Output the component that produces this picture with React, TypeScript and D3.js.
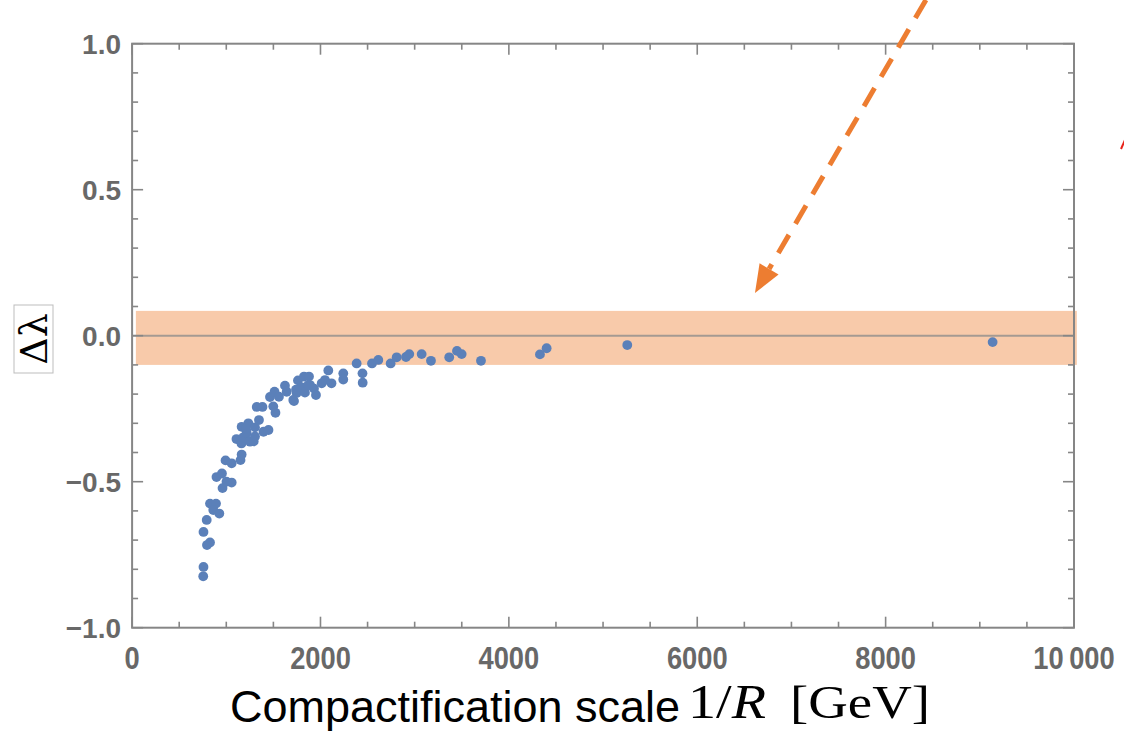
import React from "react";
import * as d3 from "d3";

// scan points: compactification scale 1/R [GeV] vs delta lambda
const invR = [
  755, 758, 795, 827, 758, 792, 827, 891, 862, 926, 896, 954, 960, 1002, 1057,
  992, 1057, 1151, 1163, 1108, 1161, 1180, 1217, 1163, 1234, 1252, 1291, 1305,
  1305, 1347, 1395, 1448, 1323, 1384, 1522, 1499, 1464, 1512, 1559, 1623, 1641,
  1719, 1747, 1761, 1800, 1835, 1825, 1878, 1889, 1931, 1952, 2013, 2048, 2083,
  2117, 2242, 2242, 2384, 2446, 2448, 2547, 2614, 2745, 2809, 2908, 2943, 3074,
  3173, 3367, 3449, 3499, 3704, 4330, 4401, 5257, 9136, 1711, 1870, 1210, 1740,
];
const deltaLambda = [
  -0.824, -0.792, -0.717, -0.708, -0.672, -0.631, -0.575, -0.575, -0.597,
  -0.609, -0.484, -0.472, -0.522, -0.5, -0.503, -0.427, -0.437, -0.426, -0.407,
  -0.354, -0.369, -0.348, -0.333, -0.312, -0.3, -0.363, -0.362, -0.345, -0.314,
  -0.289, -0.329, -0.323, -0.244, -0.244, -0.264, -0.242, -0.21, -0.192,
  -0.209, -0.171, -0.192, -0.224, -0.196, -0.153, -0.177, -0.195, -0.14, -0.14,
  -0.169, -0.181, -0.203, -0.163, -0.152, -0.119, -0.163, -0.129, -0.15,
  -0.095, -0.129, -0.161, -0.095, -0.083, -0.095, -0.074, -0.073, -0.063,
  -0.063, -0.086, -0.074, -0.052, -0.063, -0.086, -0.064, -0.043, -0.032,
  -0.022, -0.22, -0.169, -0.32, -0.185,
];

const xTicks = [0, 2000, 4000, 6000, 8000, 10000];
const xTickLabels = ["0", "2000", "4000", "6000", "8000", "10\u2009000"];
const yTicks = [-1, -0.5, 0, 0.5, 1];
const yTickLabels = ["\u22121.0", "\u22120.5", "0.0", "0.5", "1.0"];

// shaded band around zero
const bandX = [40, 10030];
const bandY = [-0.1, 0.085];

// dashed arrow annotation (data coords)
const arrowFrom = [8428, 1.15];
const arrowTo = [6613, 0.146];

export default function App() {
  const W = 1124;
  const H = 731;
  const left = 132.1,
    right = 1074,
    top = 43.7,
    bottom = 627.7;

  const x = d3.scaleLinear().domain([0, 10000]).range([left, right]);
  const y = d3.scaleLinear().domain([-1, 1]).range([bottom, top]);

  const xMinor = d3.range(0, 10001, 500);
  const yMinor = d3.range(-10, 11).map((d) => d / 10);

  const frame = "#868686";
  const labelColor = "#686868";

  const pts = invR.map((v, i) => [x(v), y(deltaLambda[i])]);

  // arrow geometry
  const ax0 = x(arrowFrom[0]),
    ay0 = y(arrowFrom[1]);
  const ax1 = x(arrowTo[0]),
    ay1 = y(arrowTo[1]);
  const len = Math.hypot(ax1 - ax0, ay1 - ay0);
  const ux = (ax1 - ax0) / len,
    uy = (ay1 - ay0) / len;
  const headL = 28,
    headW = 11;
  const bx = ax1 - ux * headL,
    by = ay1 - uy * headL;
  const head = [
    [ax1, ay1],
    [bx - uy * headW, by + ux * headW],
    [bx + uy * headW, by - ux * headW],
  ];

  return (
    <svg
      width={W}
      height={H}
      style={{ position: "absolute", left: 0, top: 0, background: "#fff" }}
    >
      {/* band */}
      <rect
        x={x(bandX[0])}
        y={y(bandY[1])}
        width={x(bandX[1]) - x(bandX[0])}
        height={y(bandY[0]) - y(bandY[1])}
        fill="#F8CAAA"
      />
      {/* zero line */}
      <line
        x1={left}
        x2={right}
        y1={y(0)}
        y2={y(0)}
        stroke="#8a8a8a"
        strokeOpacity={0.75}
        strokeWidth={2}
      />

      {/* points */}
      <g fill="#5B80B9">
        {pts.map((p, i) => (
          <circle key={i} cx={p[0]} cy={p[1]} r={4.9} />
        ))}
      </g>

      {/* frame */}
      <rect
        x={left}
        y={top}
        width={right - left}
        height={bottom - top}
        fill="none"
        stroke={frame}
        strokeWidth={2}
      />
      <g stroke={frame} strokeWidth={1.6}>
        {xMinor.map((v) => {
          const L = v % 2000 === 0 ? 11 : 6;
          return (
            <g key={"x" + v}>
              <line x1={x(v)} x2={x(v)} y1={bottom} y2={bottom - L} />
              <line x1={x(v)} x2={x(v)} y1={top} y2={top + L} />
            </g>
          );
        })}
        {yMinor.map((v) => {
          const L = Math.abs(Math.round(v * 10)) % 5 === 0 ? 11 : 6;
          return (
            <g key={"y" + v}>
              <line x1={left} x2={left + L} y1={y(v)} y2={y(v)} />
              <line x1={right} x2={right - L} y1={y(v)} y2={y(v)} />
            </g>
          );
        })}
      </g>

      {/* tick labels */}
      <g
        fill={labelColor}
        fontFamily="'Liberation Sans', Arial, sans-serif"
        fontWeight="bold"
      >
        {yTicks.map((v, i) => (
          <text key={v} x={121} y={y(v)} dy="0.36em" textAnchor="end" fontSize={28}>
            {yTickLabels[i]}
          </text>
        ))}
        {xTicks.map((v, i) => (
          <text
            key={v}
            transform={`translate(${x(v)},669) scale(0.88,1)`}
            textAnchor="middle"
            fontSize={31}
          >
            {xTickLabels[i]}
          </text>
        ))}
      </g>

      {/* y label */}
      <rect x={14} y={305} width={39} height={68} fill="#fff" stroke="#bdbdbd" strokeWidth={1} />
      <text
        transform="translate(47,339) rotate(-90)"
        textAnchor="middle"
        fontFamily="'DejaVu Serif', 'Liberation Serif', serif"
        fontSize={38}
        fill="#000"
      >
        Δλ
      </text>

      {/* x label */}
      <text
        x={230}
        y={722}
        fontFamily="'Liberation Sans', Arial, sans-serif"
        fontSize={45}
        textLength={450}
        lengthAdjust="spacingAndGlyphs"
        fill="#000"
      >
        Compactification scale
      </text>
      <text
        x={688}
        y={718}
        fontFamily="'Liberation Serif', 'Times New Roman', serif"
        fontSize={48}
        textLength={78}
        lengthAdjust="spacingAndGlyphs"
        fill="#000"
      >
        1/<tspan fontStyle="italic">R</tspan>
      </text>
      <text
        x={790}
        y={718}
        fontFamily="'Liberation Serif', 'Times New Roman', serif"
        fontSize={46}
        textLength={140}
        lengthAdjust="spacingAndGlyphs"
        fill="#000"
      >
        [GeV]
      </text>

      {/* arrow */}
      <line
        x1={ax0}
        y1={ay0}
        x2={bx}
        y2={by}
        stroke="#ED7D31"
        strokeWidth={5}
        strokeDasharray="21 13"
      />
      <polygon points={head.map((p) => p.join(",")).join(" ")} fill="#ED7D31" />

      {/* cut-off annotation at right edge */}
      <line x1={1121} y1={149} x2={1125} y2={140} stroke="#E8231A" strokeWidth={2} />
    </svg>
  );
}
